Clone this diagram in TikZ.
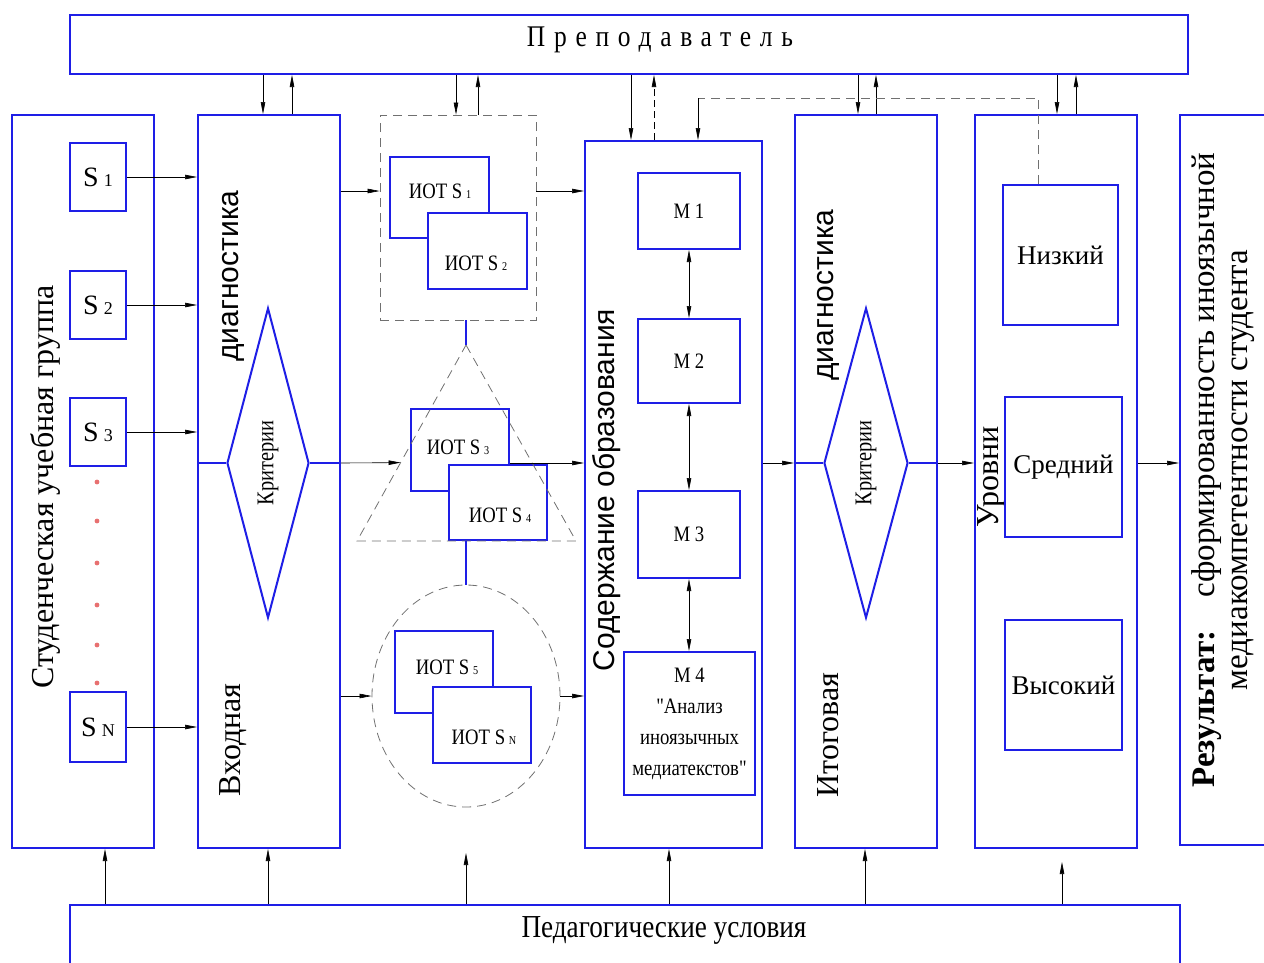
\documentclass[tikz,border=0pt]{standalone}
\usepackage{fontspec}
\setmainfont{Liberation Serif}
\setsansfont{Liberation Sans}
\newfontfamily\narrowfont[FakeStretch=0.85]{Liberation Serif}
\usetikzlibrary{positioning, arrows.meta, shapes.geometric, calc}
\definecolor{cFrame}{HTML}{1E1EE6}
\definecolor{cDash}{HTML}{707070}
\definecolor{cDot}{HTML}{E87070}
\newcommand{\sname}[1]{{\fontsize{28}{28}\selectfont S}\hspace{5pt}{\fontsize{18}{18}\selectfont #1}}
\newcommand{\iot}[1]{ИОТ S\,{\fontsize{12}{12}\selectfont #1}}
\tikzset{
  box/.style={draw=cFrame, line width=2pt, fill=white, inner sep=0pt},
  dims/.style 2 args={minimum width=#1pt, minimum height=#2pt},
  dl/.style={draw=cDash, line width=0.8pt, dash pattern=on 9pt off 6pt},
  bl/.style={draw=cFrame, line width=2pt},
  arr/.style={-{Triangle[length=12pt, width=4.5pt]}, line width=0.6pt, black},
  darr/.style={{Triangle[length=12pt, width=4.5pt]}-{Triangle[length=12pt, width=4.5pt]}, line width=0.6pt, black},
  crit/.style={diamond, draw=cFrame, line width=2pt, inner sep=0pt},
}

\begin{document}
\begin{tikzpicture}[
  x=1pt, y=-1pt,
  bigserif/.style={font=\fontsize{32}{36}\selectfont, inner sep=0pt},
  bigsans/.style={font=\sffamily\fontsize{30}{34}\selectfont, inner sep=0pt},
  lbl/.style={font=\narrowfont\fontsize{22}{24}\selectfont, inner sep=0pt},
  critlbl/.style={font=\narrowfont\fontsize{24}{26}\selectfont, inner sep=0pt, rotate=90},
  mbox/.style={box, font=\narrowfont\fontsize{22}{31}\selectfont},
  lvbox/.style={box, font=\fontsize{27}{30}\selectfont},
]
\useasboundingbox (0,0) rectangle (1264,962);

% teacher and conditions
\node[box, dims={1118}{59}] (teacher) at (629,44.5) {};
\node[font={\narrowfont\fontsize{30}{32}\selectfont\addfontfeature{LetterSpace=29}}, inner sep=0pt] (teachert) at (660,40) {Преподаватель};
\node[box, dims={1110}{64}] (cond) at (625,937) {};
\node[font=\narrowfont\fontsize{32}{34}\selectfont, inner sep=0pt] (condt) at (664,930) {Педагогические условия};

% column 1: student group
\node[box, dims={142}{733}] (grp) at (83,481.5) {};
\node[bigserif, rotate=90] (grpt) at (45,487) {Студенческая учебная группа};
\foreach \i/\yy in {1/177, 2/305, 3/432}
  \node[box, dims={56}{68}] (s\i) at (98,\yy) {\sname{\i}};
\node[box, dims={56}{70}] (sN) at (98,727) {\sname{N}};
\foreach \yy in {482,521,563,605,645,683}
  \fill[cDot] (97,\yy) circle (2.4pt);

% column 2: entry diagnostics
\node[box, dims={142}{733}] (entry) at (269,481.5) {};
\node[bigsans, rotate=90] (entryt1) at (233,276) {диагностика};
\node[bigserif, rotate=90] (entryt2) at (233,740) {Входная};
\node[crit, dims={82}{310}] (crit1) at (268,463) {};
\node[critlbl] (crit1t) at (268,463) {Критерии};
\draw[bl] (entry.west |- crit1) -- (crit1.west);
\draw[bl] (crit1.east) -- (entry.east |- crit1);
\foreach \i in {1,2,3,N}
  \draw[arr] (s\i) -- (s\i -| entry.west);

% column 3: individual routes
\node[dl, dims={156}{205}] (sq) at (458,217.5) {};
\node[box, dims={99}{81}] (iot1) at (439.5,197.5) {};
\node[lbl] (iot1t) at (440,191) {\iot{1}};
\node[box, dims={99}{76}] (iot2) at (477.5,251) {};
\node[lbl] (iot2t) at (476,263) {\iot{2}};

\coordinate (apex) at (466,345);
\coordinate (tril) at (357,541);
\coordinate (trir) at (576,541);
\node[box, dims={98}{82}] (iot3) at (460,450) {};
\node[lbl] (iot3t) at (458,447) {\iot{3}};
\node[box, dims={98}{75}] (iot4) at (498,502.5) {};
\node[lbl] (iot4t) at (500,515) {\iot{4}};
\draw[dl] (apex) -- (trir) -- (tril) -- cycle;

\node[dl, ellipse, dims={188}{222}, inner sep=0pt] (circ) at (466,696) {};
\node[box, dims={98}{82}] (iot5) at (444,672) {};
\node[lbl] (iot5t) at (447,667) {\iot{5}};
\node[box, dims={98}{76}] (iotN) at (482,725) {};
\node[lbl] (iotNt) at (484,737) {\iot{N}};

\draw[bl] (apex |- sq.south) -- (apex);
\draw[bl] (apex |- iot4.south) -- (apex |- circ.north);

% column 4: content
\node[box, dims={177}{707}] (content) at (673.5,494.5) {};
\node[bigsans, rotate=90] (contentt) at (607,490) {Содержание образования};
\node[mbox, dims={102}{76}] (m1) at (689,211) {М 1};
\node[mbox, dims={102}{84}] (m2) at (689,361) {М 2};
\node[mbox, dims={102}{87}] (m3) at (689,534.5) {М 3};
\node[mbox, dims={131}{143}, align=center] (m4) at (689.5,723.5) {М 4\\"Анализ\\иноязычных\\медиатекстов"};
\foreach \a/\b in {m1/m2, m2/m3, m3/m4}
  \draw[darr] (\a.south) -- (\a.south |- \b.north);

% column 5: final diagnostics
\node[box, dims={142}{733}] (final) at (866,481.5) {};
\node[bigsans, rotate=90] (finalt1) at (828,295) {диагностика};
\node[bigserif, rotate=90] (finalt2) at (828,735) {Итоговая};
\node[crit, dims={84}{310}] (crit2) at (866,463) {};
\node[critlbl] (crit2t) at (866,463) {Критерии};
\draw[bl] (final.west |- crit2) -- (crit2.west);
\draw[bl] (crit2.east) -- (final.east |- crit2);

% column 6: levels
\node[box, dims={162}{733}] (levels) at (1056,481.5) {};
\node[bigserif, rotate=90] (levelst) at (991,477) {Уровни};
\node[lvbox, dims={115}{140}] (low) at (1060.5,255) {Низкий};
\node[lvbox, dims={117}{140}] (mid) at (1063.5,467) {Средний};
\node[lvbox, dims={117}{130}] (high) at (1063.5,685) {Высокий};

% column 7: result
\node[box, dims={110}{730}] (result) at (1235,480) {};
\node[rotate=90, align=center, font=\fontsize{33}{33}\selectfont, inner sep=0pt] (resultt) at (1223,470)
  {\textbf{Результат:}\quad сформированность иноязычной\\медиакомпетентности студента};

% flow arrows
\draw[arr] (entry.east |- iot1t) -- (sq.west |- iot1t);
\draw[arr] (sq.east |- iot1t) -- (content.west |- iot1t);
\draw[arr] (entry.east |- crit1) -- ($(apex)!0.6!(tril)$);
\draw[arr] (iot3.east |- crit1) -- (content.west |- crit1);
\draw[arr] (entry.east |- circ.west) -- (circ.west);
\draw[arr] (circ.east) -- (content.west |- circ.east);
\draw[arr] (content.east |- crit2) -- (final.west |- crit2);
\draw[arr] (final.east |- crit2) -- (levels.west |- crit2);
\draw[arr] (levels.east |- crit2) -- (result.west |- crit2);

% teacher links
\foreach \xa/\xb/\tgt in {263/292/entry, 456/478/sq, 858/876/final, 1057/1076/levels} {
  \draw[arr] (\xa,0 |- teacher.south) -- (\xa,0 |- \tgt.north);
  \draw[arr] (\xb,0 |- \tgt.north) -- (\xb,0 |- teacher.south);
}
\draw[arr] (631,0 |- teacher.south) -- (631,0 |- content.north);
\draw[arr, dash pattern=on 7pt off 4pt] (654,0 |- content.north) -- (654,0 |- teacher.south);

% feedback from low level
\coordinate (fb) at (698,98);
\draw[dl] ([xshift=-22pt]low.north) |- (fb);
\draw[arr] (fb) -- (fb |- content.north);

% conditions links
\coordinate (up3) at (466,853);
\coordinate (up6) at (1062,862);
\foreach \xx/\tgt in {105/grp, 268/entry, 669/content, 865/final}
  \draw[arr] (\xx,0 |- cond.north) -- (\xx,0 |- \tgt.south);
\draw[arr] (up3 |- cond.north) -- (up3);
\draw[arr] (up6 |- cond.north) -- (up6);

\end{tikzpicture}
\end{document}
